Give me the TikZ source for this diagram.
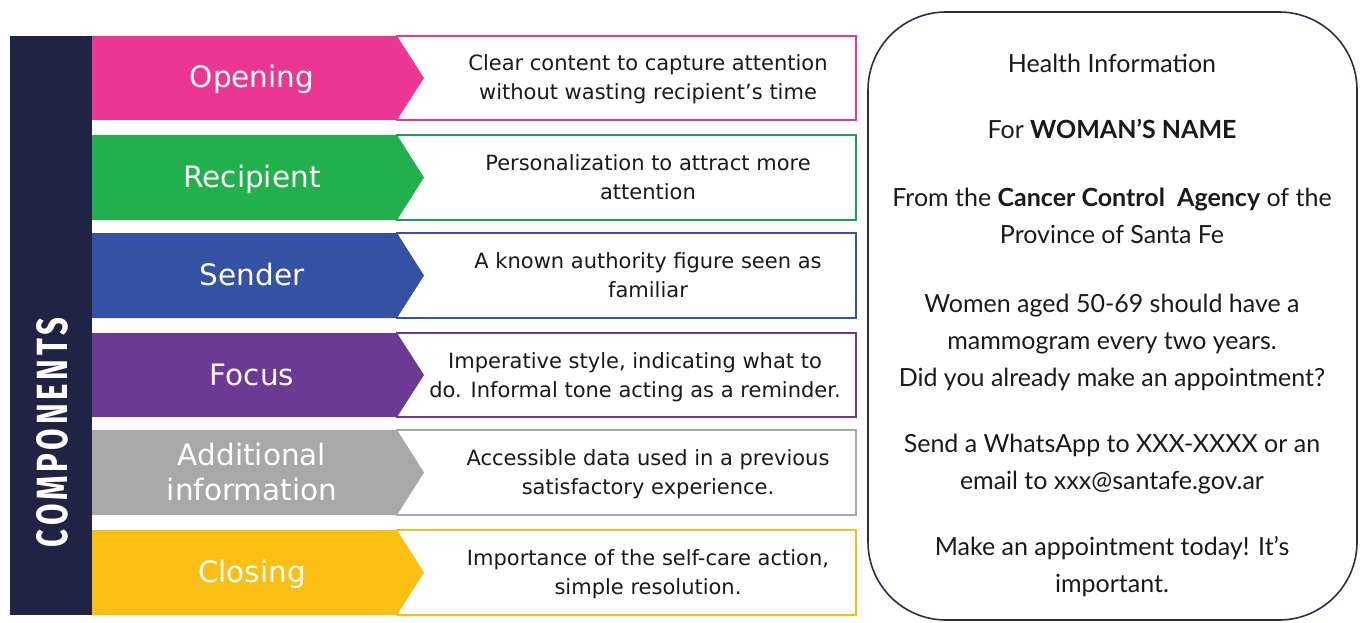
\documentclass[tikz,border=0pt]{standalone}
\usepackage{fontspec}
\setmainfont{Lato}
\newfontfamily\descfont{DejaVu Sans}
\newfontfamily\compfont[LetterSpace=12]{Fira Sans Bold}
\usetikzlibrary{positioning}
\definecolor{navy}{HTML}{1F2444}
\definecolor{cpink}{HTML}{EC3694}
\definecolor{cgreen}{HTML}{21B04B}
\definecolor{cgreenb}{HTML}{1E9A55}
\definecolor{cblue}{HTML}{3551A3}
\definecolor{cpurple}{HTML}{6C3995}
\definecolor{cgray}{HTML}{A8A8A8}
\definecolor{cyellow}{HTML}{F9C013}
\definecolor{boxline}{HTML}{2B2E45}
\definecolor{txt}{HTML}{1A1A1A}
\tikzset{
  lbl/.style={text=white, font=\descfont\fontsize{29.5}{35}\selectfont, align=center, inner sep=0pt, anchor=base},
  desc/.style={text=txt, font=\descfont\fontsize{21}{29}\selectfont, align=center, inner sep=0pt, anchor=base},
  info/.style={text=txt, font=\fontsize{25}{37}\selectfont, align=center, inner sep=0pt, anchor=base},
  descbox/.style={draw=#1, line width=1.6pt, fill=white},
}
\begin{document}
\begin{tikzpicture}[x=1pt,y=-1pt]
\useasboundingbox (0,0) rectangle (1364,623);
% left bar
\fill[navy] (10,36) rectangle (92,615);
\node[rotate=90, inner sep=0pt] (comp) at (52,432.5) {\resizebox{229pt}{31pt}{\color{white}\compfont COMPONENTS}};
% rows
\foreach \t/\b/\c/\d [count=\i] in {36/120/cpink/cpink, 135/220/cgreen/cgreenb, 233/318/cblue/cblue, 333/417/cpurple/cpurple, 430/515/cgray/cgray, 530/615/cyellow/cyellow}{
  \draw[descbox=\d] (397,\t) rectangle (856,\b);
  \fill[\c] (92,\t) -- (397,\t) -- (424,{(\t+\b)/2}) -- (397,\b) -- (92,\b) -- cycle;
  \coordinate (m\i) at (252,{(\t+\b)/2+10});
  \coordinate (d\i) at (648,{(\t+\b)/2+22});
}
\node[lbl] (l1) at (m1) {Opening};
\node[lbl] (l2) at (m2) {Recipient};
\node[lbl] (l3) at (m3) {Sender};
\node[lbl] (l4) at (m4) {Focus};
\node[lbl] (l5) at ([yshift=-17.5pt]m5) {Additional\\information};
\node[lbl] (l6) at (m6) {Closing};
\node[desc] (t1) at (d1) {Clear content to capture attention\\without wasting recipient’s time};
\node[desc] (t2) at (d2) {Personalization to attract more\\attention};
\node[desc] (t3) at (d3) {A known authority figure seen as\\familiar};
\node[desc] (t4) at ([xshift=-13pt]d4) {Imperative style, indicating what to\\do. Informal tone acting as a reminder.};
\node[desc] (t5) at (d5) {Accessible data used in a previous\\satisfactory experience.};
\node[desc] (t6) at (d6) {Importance of the self-care action,\\simple resolution.};
% right box
\draw[boxline, line width=1.6pt, rounded corners=78pt] (868,12) rectangle (1357,620);
\node[info] (i1) at (1112,73) {Health Information};
\node[info] (i2) at (1112,139) {For \textbf{WOMAN’S NAME}};
\node[info] (i3) at (1112,243) {From the \textbf{Cancer Control\ \ Agency} of the\\Province of Santa Fe};
\node[info] (i4) at (1112,386) {Women aged 50-69 should have a\\mammogram every two years.\\Did you already make an appointment?};
\node[info] (i5) at (1112,489) {Send a WhatsApp to XXX-XXXX or an\\email to xxx@santafe.gov.ar};
\node[info] (i6) at (1112,592) {Make an appointment today! It’s\\important.};
\end{tikzpicture}
\end{document}
